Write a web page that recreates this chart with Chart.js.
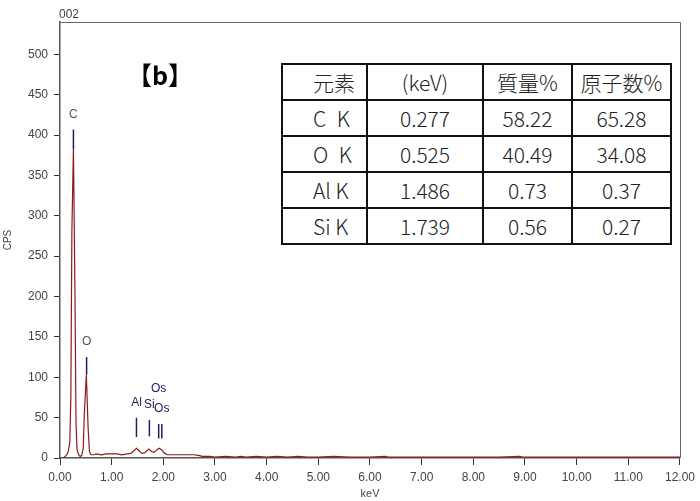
<!DOCTYPE html>
<html>
<head>
<meta charset="utf-8">
<script src="https://cdn.jsdelivr.net/npm/chart.js@4/dist/chart.umd.min.js"></script>
<style>
  body { margin: 0; background: #fff; }
  #wrap { position: relative; width: 700px; height: 501px; }
  #resultTable {
    position: absolute; left: 281px; top: 63px; width: 389px;
    table-layout: fixed;
    border-collapse: collapse; background: #fff;
    font-family: "Noto Sans CJK JP", "Noto Sans", sans-serif;
    font-size: 21px; font-weight: 300; color: #222;
    border: 2.5px solid #111;
  }
  #resultTable td {
    border: 2px solid #111; height: 34px; padding: 0;
    text-align: center; line-height: 34px; overflow: hidden; white-space: nowrap;
  }
  #resultTable td.el { text-align: left; padding-left: 30px; }
</style>
</head>
<body>
<div id="wrap">
  <canvas id="spectrumChart" width="700" height="501"></canvas>
  <table id="resultTable"></table>
</div>
<script>
// 스펙트럼 (keV, CPS) - 그림에서 읽은 값
var specKeV = [0.00, 0.05, 0.08, 0.10, 0.13, 0.16, 0.19, 0.21, 0.23, 0.26, 0.29, 0.31, 0.33, 0.36, 0.39,
    0.42, 0.45, 0.47, 0.51, 0.545, 0.57, 0.60, 0.65, 0.70, 0.80, 0.90, 1.00, 1.10, 1.20, 1.30,
    1.38, 1.43, 1.48, 1.53, 1.58, 1.62, 1.67, 1.72, 1.77, 1.82, 1.87, 1.92, 1.97, 2.02, 2.08,
    2.15, 2.30, 2.45, 2.60, 2.70, 2.75, 2.90, 3.00, 3.20, 3.40, 3.50, 3.60, 3.80, 4.00, 4.20,
    4.40, 4.60, 4.80, 5.00, 5.30, 5.60, 6.00, 6.30, 6.35, 6.60, 7.00, 7.50, 8.00, 8.50, 8.90,
    8.95, 9.30, 10.00, 10.50, 11.00, 11.50, 12.00];
var specCps = [0, 0, 1, 2, 4, 8, 20, 76, 280, 384, 202, 43, 10, 4, 2,
    3, 12, 53, 103, 36, 8, 4, 4, 5, 4, 5, 5, 5, 4, 5,
    6, 9, 12, 9, 6, 6, 8, 11, 8, 7, 10, 12, 10, 6, 4,
    4, 4, 4, 4, 3, 2, 2, 1, 2, 1, 2, 1, 2, 1, 2,
    1, 2, 1, 1, 2, 1, 1, 2, 1, 1, 1, 1, 1, 1, 2,
    1, 1, 1, 1, 1, 1, 1];

// 원소 마커
var markerNames = ["C", "O", "Al", "Si", "Os", "Os"];
var markerKeV   = [0.26, 0.515, 1.48, 1.73, 1.91, 1.97];
var markerBase  = [383, 103, 26, 27, 24, 24];
var markerTop   = [407, 125, 50, 47, 42, 42];

// 축 눈금
var xTicks = [0, 1, 2, 3, 4, 5, 6, 7, 8, 9, 10, 11, 12];
var yTicks = [0, 50, 100, 150, 200, 250, 300, 350, 400, 450, 500];

// 표
var tableHead = ["元素", "(keV)", "質量%", "原子数%"];
var tableElem = ["C\u2002K", "O\u2002K", "Al K", "Si K"];
var tableKeV  = ["0.277", "0.525", "1.486", "1.739"];
var tableMass = ["58.22", "40.49", "0.73", "0.56"];
var tableAtom = ["65.28", "34.08", "0.37", "0.27"];

// 표 만들기
var colW = [85, 116, 89, 99];
var html = "<colgroup>";
colW.forEach(function(w) { html += "<col style='width:" + w + "px'>"; });
html += "</colgroup><tr>";
tableHead.forEach(function(h, i) {
    html += "<td" + (i === 0 ? " class='el'" : "") + ">" + h + "</td>";
});
html += "</tr>";
tableElem.forEach(function(e, i) {
    html += "<tr><td class='el'>" + e + "</td><td>" + tableKeV[i] + "</td><td>" +
        tableMass[i] + "</td><td>" + tableAtom[i] + "</td></tr>";
});
document.getElementById("resultTable").innerHTML = html;

var spectrum = specKeV.map(function(k, i) { return { x: k, y: specCps[i] }; });

var markers = [];
markerKeV.forEach(function(k, i) {
    markers.push({ x: k, y: markerBase[i] });
    markers.push({ x: k, y: markerTop[i] });
    markers.push({ x: k, y: null });
});

// 라벨, 테두리, 제목 그리기
var extras = {
    id: "extras",
    afterDatasetsDraw: function(chart) {
        var ctx = chart.ctx, a = chart.chartArea;
        var xs = chart.scales.x, ys = chart.scales.y;
        ctx.save();
        // 상단, 오른쪽 테두리
        ctx.strokeStyle = "#666";
        ctx.lineWidth = 1;
        ctx.beginPath();
        ctx.moveTo(a.left, a.top + 0.5);
        ctx.lineTo(a.right + 0.5, a.top + 0.5);
        ctx.lineTo(a.right + 0.5, a.bottom);
        ctx.stroke();

        ctx.font = "12px 'Liberation Sans', Arial, sans-serif";
        ctx.fillStyle = "#444";
        ctx.textAlign = "left";
        ctx.textBaseline = "middle";
        ctx.fillText("002", a.left - 1, 15);

        // 원소 라벨 (겹치면 위로)
        ctx.textAlign = "center";
        var placed = [];
        markerNames.forEach(function(name, i) {
            var px = xs.getPixelForValue(markerKeV[i]);
            var py = ys.getPixelForValue(markerTop[i]) - 15;
            var w = ctx.measureText(name).width;
            var hit = placed.some(function(p) {
                return Math.abs(p.y - py) < 8 && px - w / 2 < p.r - 3 && px + w / 2 > p.l + 3;
            });
            if (hit) py -= 20;
            placed.push({ l: px - w / 2, r: px + w / 2, y: py });
            ctx.fillStyle = i < 2 ? "#555" : "#1c1c5c";
            ctx.fillText(name, px, py);
        });

        ctx.font = "bold 25px 'Noto Sans CJK JP', sans-serif";
        ctx.fillStyle = "#000";
        ctx.fillText("【b】", 160, 75);
        ctx.restore();
    }
};

new Chart(document.getElementById("spectrumChart").getContext("2d"), {
    type: "line",
    data: {
        datasets: [
            {
                data: spectrum,
                borderColor: "#8c1c1c",
                borderWidth: 1.2,
                pointRadius: 0,
                tension: 0,
                fill: false
            },
            {
                data: markers,
                borderColor: "#2a1a66",
                borderWidth: 1.5,
                pointRadius: 0,
                spanGaps: false,
                fill: false
            }
        ]
    },
    options: {
        responsive: false,
        animation: false,
        events: [],
        layout: { padding: { top: 22, right: 18, left: 0, bottom: 0 } },
        plugins: { legend: { display: false }, tooltip: { enabled: false } },
        scales: {
            x: {
                type: "linear",
                min: 0,
                max: 12,
                afterFit: function(s) { s.height = 43; },
                afterBuildTicks: function(s) { s.ticks = xTicks.map(function(v) { return { value: v }; }); },
                grid: { drawOnChartArea: false, drawTicks: true, tickLength: 7, color: "#333" },
                border: { display: true, color: "#555", width: 1.5 },
                ticks: {
                    padding: 5,
                    color: "#444",
                    font: { family: "'Liberation Sans', Arial, sans-serif", size: 12 },
                    callback: function(v) { return v.toFixed(2); }
                },
                title: {
                    display: true, text: "keV", color: "#444", padding: 0,
                    font: { family: "'Liberation Sans', Arial, sans-serif", size: 11 }
                }
            },
            y: {
                type: "linear",
                min: 0,
                max: 540,
                afterFit: function(s) { s.width = 60; },
                afterBuildTicks: function(s) { s.ticks = yTicks.map(function(v) { return { value: v }; }); },
                grid: { drawOnChartArea: false, drawTicks: true, tickLength: 6, color: "#333" },
                border: { display: true, color: "#555", width: 1.5 },
                ticks: {
                    padding: 6,
                    color: "#444",
                    font: { family: "'Liberation Sans', Arial, sans-serif", size: 12 }
                },
                title: {
                    display: true, text: "CPS", color: "#444", padding: 2,
                    font: { family: "'Liberation Sans', Arial, sans-serif", size: 10 }
                }
            }
        }
    },
    plugins: [extras]
});
</script>
</body>
</html>
